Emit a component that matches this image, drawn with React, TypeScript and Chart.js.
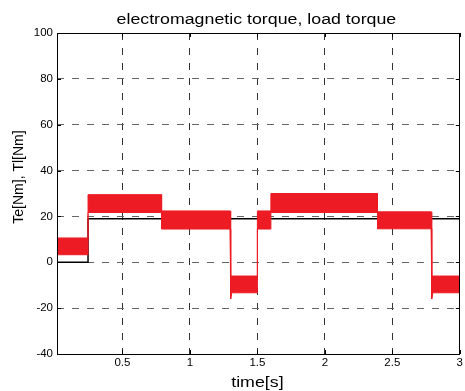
import React, { useEffect, useRef } from "react";
import { Chart, registerables } from "chart.js";

Chart.register(...registerables);

// ---- data ----
const chartTitle = "electromagnetic torque, load torque";
const xTitle = "time[s]";
const yTitle = "Te[Nm], Tl[Nm]";

const xMin = 0.015;
const xMax = 3;
const yMin = -40;
const yMax = 100;
const xTicks = [0.5, 1, 1.5, 2, 2.5, 3];
const yTicks = [-40, -20, 0, 20, 40, 60, 80, 100];

// load torque Tl (black step)
const tlTime = [0.015, 0.245, 0.245, 3];
const tlValue = [0, 0, 19, 19];

// electromagnetic torque Te: upper / lower envelope of the noisy band
const teTime = [0.015, 0.245, 0.245, 0.79, 0.79, 1.298, 1.302, 1.31, 1.5, 1.5, 1.6, 1.6, 2.39, 2.39, 2.788, 2.792, 2.8, 3];
const teUpper = [10.6, 10.6, 29.5, 29.5, 22.4, 22.4, -6, -6, -6, 22.4, 22.4, 30, 30, 22, 22, -6, -6, -6];
const teLower = [3.3, 3.3, 21.7, 21.7, 14.5, 14.5, -16, -13.3, -13.3, 14.5, 14.5, 21.7, 21.7, 14.6, 14.6, -16, -13.3, -13.3];

const RED = "rgb(237,28,36)";
const FONT = '"Liberation Sans", Arial, sans-serif';

const framePlugin = {
  id: "matlabFrame",
  afterDraw(chart: any) {
    const { ctx, chartArea } = chart;
    const { left, right, top, bottom } = chartArea;
    const xs = chart.scales.x;
    const ys = chart.scales.y;
    ctx.save();
    ctx.strokeStyle = "#000";
    ctx.lineWidth = 1;
    ctx.setLineDash([]);
    // box
    ctx.strokeRect(Math.round(left) + 0.5, Math.round(top) + 0.5, Math.round(right - left) - 1, Math.round(bottom - top));
    // inward ticks
    const tl = 4;
    ctx.beginPath();
    xTicks.forEach((v) => {
      const px = Math.round(xs.getPixelForValue(v)) + 0.5;
      ctx.moveTo(px, bottom);
      ctx.lineTo(px, bottom - tl);
      ctx.moveTo(px, top);
      ctx.lineTo(px, top + tl);
    });
    yTicks.forEach((v) => {
      const py = Math.round(ys.getPixelForValue(v)) + 0.5;
      ctx.moveTo(left, py);
      ctx.lineTo(left + tl, py);
      ctx.moveTo(right, py);
      ctx.lineTo(right - tl, py);
    });
    ctx.stroke();

    ctx.fillStyle = "#000";
    // chart title (stretched horizontally like the reference)
    ctx.font = `14px ${FONT}`;
    ctx.textAlign = "center";
    ctx.textBaseline = "alphabetic";
    ctx.save();
    ctx.translate((left + right) / 2 - 2, 24);
    ctx.scale(1.27, 1);
    ctx.fillText(chartTitle, 0, 0);
    ctx.restore();
    // x title
    ctx.save();
    ctx.translate((left + right) / 2 - 1, 386.5);
    ctx.scale(1.27, 1);
    ctx.fillText(xTitle, 0, 0);
    ctx.restore();
    // y title
    ctx.save();
    ctx.translate(23, 177);
    ctx.rotate(-Math.PI / 2);
    ctx.fillText(yTitle, 0, 0);
    ctx.restore();
    ctx.restore();
  },
};

export default function App() {
  const ref = useRef<HTMLCanvasElement | null>(null);
  useEffect(() => {
    if (!ref.current) return;
    const chart = new Chart(ref.current, {
      type: "line",
      data: {
        datasets: [
          {
            label: "Te upper",
            data: teTime.map((t, i) => ({ x: t, y: teUpper[i] })),
            borderColor: RED,
            backgroundColor: RED,
            borderWidth: 1,
            pointRadius: 0,
            tension: 0,
            fill: "+1",
            order: 0,
          },
          {
            label: "Te lower",
            data: teTime.map((t, i) => ({ x: t, y: teLower[i] })),
            borderColor: RED,
            backgroundColor: RED,
            borderWidth: 1,
            pointRadius: 0,
            tension: 0,
            fill: false,
            order: 0,
          },
          {
            label: "Tl",
            data: tlTime.map((t, i) => ({ x: t, y: tlValue[i] })),
            borderColor: "#000",
            borderWidth: 1.5,
            pointRadius: 0,
            tension: 0,
            fill: false,
            order: 1,
          },
        ],
      },
      options: {
        animation: false,
        responsive: false,
        events: [],
        layout: { padding: { top: 33, right: 3, left: 0, bottom: 0 } },
        plugins: {
          legend: { display: false },
          title: { display: false },
          tooltip: { enabled: false },
        },
        scales: {
          x: {
            type: "linear",
            min: xMin,
            max: xMax,
            afterBuildTicks: (s: any) => {
              s.ticks = xTicks.map((v) => ({ value: v }));
            },
            afterFit: (s: any) => {
              s.height = 37;
            },
            grid: { color: "#333", lineWidth: 1, drawTicks: false },
            border: { display: false, dash: [7, 8] },
            ticks: {
              color: "#000",
              padding: 2,
              maxRotation: 0,
              autoSkip: false,
              font: { family: FONT, size: 11.5 },
              callback: (v: any) => String(v),
            },
          },
          y: {
            type: "linear",
            min: yMin,
            max: yMax,
            afterBuildTicks: (s: any) => {
              s.ticks = yTicks.map((v) => ({ value: v }));
            },
            afterFit: (s: any) => {
              s.width = 57;
            },
            grid: { color: "#666", lineWidth: 1, drawTicks: false },
            border: { display: false, dash: [7, 8] },
            ticks: {
              color: "#000",
              padding: 4,
              autoSkip: false,
              font: { family: FONT, size: 11.5 },
              callback: (v: any) => String(v),
            },
          },
        },
      },
      plugins: [framePlugin],
    } as any);
    return () => chart.destroy();
  }, []);
  return (
    <div style={{ position: "fixed", left: 0, top: 0, width: 465, height: 391, background: "#fff" }}>
      <canvas ref={ref} width={465} height={391} style={{ width: 465, height: 391, display: "block" }} />
    </div>
  );
}
